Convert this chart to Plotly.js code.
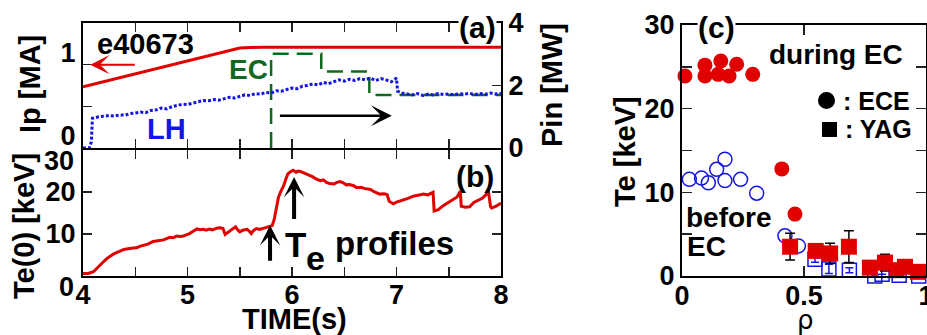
<!DOCTYPE html>
<html><head><meta charset="utf-8">
<script src="https://cdn.plot.ly/plotly-3.0.1.min.js"></script>
<style>html,body{margin:0;padding:0;background:#fff;}#plot{width:927px;height:335px;}</style>
</head><body><div id="plot"></div>
<script>
// ---------- data: panel (a) ----------
const ipTime = [4.00, 5.50, 5.70, 8.00];
const ipMA   = [0.735, 1.20, 1.21, 1.21];

const lhTime = [4.00,4.06,4.08,4.09,4.15,4.20,4.25,4.30,4.35,4.40,4.45,4.50,4.55,4.60,4.65,4.70,4.75,4.80,4.85,4.90,4.95,5.00,5.05,5.10,5.15,5.20,5.25,5.30,5.35,5.40,5.45,5.50,5.55,5.60,5.65,5.70,5.75,5.80,5.85,5.90,5.95,6.00,6.05,6.10,6.15,6.20,6.25,6.30,6.35,6.40,6.45,6.50,6.55,6.60,6.65,6.70,6.75,6.80,6.85,6.90,6.95,7.00,7.01,7.05,7.10,7.15,7.20,7.25,7.30,7.35,7.40,7.45,7.50,7.55,7.60,7.65,7.70,7.75,7.80,7.85,7.90,7.95,8.00];
const lhMW   = [0.00,0.00,0.20,0.95,1.00,1.02,1.04,1.02,1.06,1.05,1.10,1.12,1.15,1.13,1.20,1.22,1.28,1.25,1.32,1.36,1.40,1.39,1.44,1.47,1.52,1.51,1.55,1.53,1.58,1.62,1.60,1.66,1.70,1.68,1.74,1.72,1.78,1.76,1.83,1.82,1.88,1.92,1.90,1.98,2.00,2.05,2.02,2.10,2.06,2.12,2.18,2.14,2.20,2.16,2.22,2.18,2.24,2.16,2.22,2.18,2.12,2.24,1.82,1.76,1.73,1.70,1.74,1.68,1.72,1.70,1.74,1.71,1.73,1.70,1.74,1.72,1.75,1.71,1.74,1.72,1.76,1.73,1.75];

const ecTime = [5.80, 5.80, 6.28, 6.28, 6.74, 6.74, 8.00];
const ecMW   = [0.00, 3.02, 3.02, 2.45, 2.45, 1.70, 1.70];

// ---------- data: panel (b) ----------
const teTime = [4.00,4.05,4.10,4.13,4.16,4.20,4.23,4.26,4.29,4.33,4.36,4.39,4.43,4.48,4.52,4.55,4.58,4.62,4.67,4.70,4.74,4.77,4.80,4.83,4.86,4.90,4.93,4.96,5.00,5.02,5.05,5.09,5.12,5.15,5.18,5.21,5.24,5.28,5.31,5.34,5.36,5.38,5.41,5.44,5.46,5.48,5.50,5.53,5.57,5.59,5.61,5.63,5.66,5.69,5.72,5.76,5.79,5.81,5.83,5.85,5.87,5.89,5.92,5.94,5.96,5.99,6.01,6.04,6.06,6.08,6.11,6.14,6.17,6.20,6.23,6.27,6.30,6.33,6.36,6.40,6.43,6.46,6.49,6.52,6.55,6.59,6.62,6.66,6.70,6.75,6.79,6.84,6.88,6.91,6.93,6.97,7.00,7.04,7.07,7.11,7.16,7.20,7.26,7.30,7.35,7.36,7.40,7.45,7.50,7.54,7.58,7.61,7.62,7.66,7.70,7.74,7.78,7.82,7.85,7.88,7.90,7.91,7.95,7.99,8.00];
const te0keV = [0.6,0.6,1.0,1.8,2.6,3.5,4.2,4.8,5.2,5.7,6.0,6.3,6.5,6.6,6.8,7.1,7.3,7.6,8.2,8.3,8.5,8.6,8.9,9.2,9.1,9.5,9.4,9.5,9.9,10.1,10.6,11.2,11.0,11.1,10.9,11.2,11.0,11.4,11.5,11.3,9.9,10.3,10.9,11.3,11.7,11.0,10.5,10.9,11.1,10.7,10.1,10.8,11.3,11.1,11.3,11.5,11.7,12.0,13.5,16.0,18.7,20.0,21.5,23.0,24.3,24.9,25.2,24.7,25.0,24.9,24.6,24.2,23.9,23.6,23.1,22.7,22.9,22.3,22.0,21.9,22.3,22.5,22.2,21.7,21.8,21.5,21.0,21.1,20.8,20.6,20.0,19.5,19.6,19.4,17.8,17.2,17.6,17.9,18.1,18.5,19.0,19.2,19.5,19.3,19.9,15.5,15.8,16.8,17.6,18.2,18.8,20.2,16.6,16.4,16.5,17.5,18.0,18.5,19.2,20.1,16.5,16.2,16.6,17.2,17.0];

// ---------- data: panel (c) ----------
const eceDuringRho = [0.012,0.094,0.094,0.159,0.148,0.193,0.224,0.290,0.409,0.463];
const eceDuringTe  = [23.9,25.2,23.9,25.7,24.1,23.9,25.3,24.1,12.8,7.4];
const eceBeforeRho = [0.030,0.080,0.108,0.142,0.176,0.176,0.240,0.306,0.422,0.477];
const eceBeforeTe  = [11.55,11.7,11.15,12.75,13.95,11.4,11.55,9.9,4.8,3.6];
const yagDuringRho = [0.443,0.548,0.607,0.684,0.770,0.832,0.880,0.914,0.967];
const yagDuringTe  = [3.5,3.0,2.7,3.5,1.0,1.6,0.7,1.1,0.5];
const yagDuringErr = [1.6,0,1.2,1.9,0,1.0,0,0,0];
const yagBeforeRho = [0.545,0.602,0.686,0.790,0.820,0.890,0.970];
const yagBeforeTe  = [2.0,0.85,0.7,0.0,0.2,0.1,0.0];
const yagBeforeErr = [0.35,0.55,0.3,0,0,0,0];

// ---------- tick labels ----------
const timeTicks = [4,4.5,5,5.5,6,6.5,7,7.5,8];
const timeTickText = ['4','','5','','6','','7','','8'];
const ipTicks = [0,0.5,1]; const ipTickText = ['0','','1'];
const pinTicks = [0,2,4]; const pinTickText = ['0','2','4'];
const teTicks = [0,10,20,30]; const teTickText = ['','10','20',''];
const teEndTicks = [0,30]; const teEndText = ['0','30'];
const rhoTicks = [0,0.5,1]; const rhoTickText = ['0','0.5','1'];
const tecTicks = [0,5,10,15,20,25,30]; const tecTickText = ['0','','10','','20','','30'];

// ---------- layout helpers ----------
const W = 927, H = 335;
const PX = x => x / W, PY = y => 1 - y / H;
const RED = '#e00000', BLUE = '#1414e6', GREEN = '#11691f';
const FONT = 'Liberation Sans, Arial, Helvetica, sans-serif';

const traces = [
  {x: ipTime, y: ipMA, xaxis:'x', yaxis:'y', mode:'lines', line:{color:RED, width:3}},
  {x: ecTime, y: ecMW, xaxis:'x', yaxis:'y3', mode:'lines', line:{color:GREEN, width:2.5, dash:'16px,8px'}},
  {x: lhTime, y: lhMW, xaxis:'x', yaxis:'y3', mode:'lines', line:{color:BLUE, width:3, dash:'3px,2px'}},
  {x: teTime, y: te0keV, xaxis:'x2', yaxis:'y2', mode:'lines', line:{color:RED, width:3}},
  {x: eceBeforeRho, y: eceBeforeTe, xaxis:'x3', yaxis:'y4', mode:'markers', cliponaxis:false,
    marker:{symbol:'circle-open', size:14, color:BLUE, line:{width:1.5, color:BLUE}}},
  {x: yagBeforeRho, y: yagBeforeTe, xaxis:'x3', yaxis:'y4', mode:'markers', cliponaxis:false,
    error_y:{type:'data', array:yagBeforeErr, color:BLUE, thickness:1.5, width:4},
    marker:{symbol:'square-open', size:14, color:BLUE, line:{width:1.5, color:BLUE}}},
  {x: eceDuringRho, y: eceDuringTe, xaxis:'x3', yaxis:'y4', mode:'markers', cliponaxis:false,
    marker:{symbol:'circle', size:15, color:RED}},
  {x: yagDuringRho, y: yagDuringTe, xaxis:'x3', yaxis:'y4', mode:'markers', cliponaxis:false,
    error_y:{type:'data', array:yagDuringErr, color:'#000', thickness:1.5, width:5},
    marker:{symbol:'square', size:16, color:RED}}
];

const axBase = {showline:true, linewidth:2, linecolor:'#000', ticks:'inside', ticklen:9, tickwidth:1.5, tickcolor:'#222',
  showgrid:false, zeroline:false, fixedrange:true, ticklabeloverflow:'allow',
  tickfont:{size:27, family:FONT, weight:'bold', color:'#000'}};

function ann(text, xpx, ypx, size, extra) {
  return Object.assign({text:text, xref:'paper', yref:'paper', x:PX(xpx), y:PY(ypx), xanchor:'center', yanchor:'middle',
    showarrow:false, font:{size:size, family:FONT, weight:'bold', color:'#000'}}, extra || {});
}
function arrow(xr, yr, x, y, ax, ay, color, width, size) {
  return {text:'', xref:xr, yref:yr, axref:xr, ayref:yr, x:x, y:y, ax:ax, ay:ay, showarrow:true,
    arrowhead:3, arrowcolor:color, arrowwidth:width, arrowsize:size, standoff:0, startstandoff:0};
}

// Te(0) end tick labels sit slightly below their ticks (as in the original figure)
const teEndLabels = teEndTicks.map((v, i) => ({text:teEndText[i], xref:'paper', yref:'y2', x:PX(76), y:v, yshift:-11,
  xanchor:'right', yanchor:'middle', showarrow:false, font:{size:27, family:FONT, weight:'bold', color:'#000'}}));

const layout = {
  width:W, height:H, margin:{l:0,r:0,t:0,b:0}, paper_bgcolor:'#fff', plot_bgcolor:'rgba(0,0,0,0)', showlegend:false,
  font:{family:FONT, weight:'bold', color:'#000'},
  xaxis: Object.assign({}, axBase, {domain:[PX(83),PX(501)], anchor:'y', range:[4,8], tickvals:timeTicks, ticktext:timeTickText, showticklabels:false, mirror:'ticks'}),
  yaxis: Object.assign({}, axBase, {domain:[PY(148),PY(23)], anchor:'x', range:[0,1.5], tickvals:ipTicks, ticktext:ipTickText, ticklabelshift:-12}),
  yaxis3: Object.assign({}, axBase, {overlaying:'y', anchor:'x', side:'right', range:[0,4], tickvals:pinTicks, ticktext:pinTickText}),
  xaxis2: Object.assign({}, axBase, {domain:[PX(83),PX(501)], anchor:'y2', range:[4,8], tickvals:timeTicks, ticktext:timeTickText, mirror:'ticks', ticklabelstandoff:-6}),
  yaxis2: Object.assign({}, axBase, {domain:[PY(276),PY(150)], anchor:'x2', range:[0,30], tickvals:teTicks, ticktext:teTickText, mirror:'ticks'}),
  xaxis3: Object.assign({}, axBase, {domain:[PX(682),PX(926)], anchor:'y4', range:[0,1], tickvals:rhoTicks, ticktext:rhoTickText, mirror:'ticks', ticklen:10, ticklabelstandoff:-5}),
  yaxis4: Object.assign({}, axBase, {domain:[PY(276),PY(25)], anchor:'x3', range:[0,30], tickvals:tecTicks, ticktext:tecTickText, mirror:'ticks', ticklen:10}),
  shapes: [
    {type:'circle', xref:'paper', yref:'paper', x0:PX(818), x1:PX(835), y0:PY(109), y1:PY(92), fillcolor:'#000', line:{width:0}},
    {type:'rect', xref:'paper', yref:'paper', x0:PX(822), x1:PX(837), y0:PY(137), y1:PY(122), fillcolor:'#000', line:{width:0}}
  ],
  annotations: teEndLabels.concat([
    ann('Ip [MA]', 30, 84, 29, {textangle:-90}),
    ann('Pin [MW]', 552, 85, 29, {textangle:-90}),
    ann('Te(0) [keV]', 24, 226, 29, {textangle:-90}),
    ann('TIME(s)', 294, 319, 29),
    ann('Te [keV]', 625, 152, 29, {textangle:-90}),
    ann('ρ', 805, 320, 26, {font:{size:26, family:'DejaVu Sans, sans-serif', weight:'normal', color:'#000'}}),
    ann('e40673', 145, 44, 29),
    ann('EC', 249, 69, 28, {font:{size:28, family:FONT, weight:'bold', color:GREEN}}),
    ann('LH', 166, 129, 29, {font:{size:29, family:FONT, weight:'bold', color:BLUE}}),
    ann('(a)', 477, 27, 30, {bgcolor:'#fff', borderpad:0}),
    ann('(b)', 475, 176, 30),
    ann('T', 295, 244, 35),
    ann('e', 315, 258, 34),
    ann('profiles', 394, 243, 33),
    ann('(c)', 716, 27, 30, {bgcolor:'#fff', borderpad:0}),
    ann('during EC', 836, 54, 28),
    ann(': ECE', 876, 101, 25),
    ann(': YAG', 878, 129, 25),
    ann('before', 729, 217, 28),
    ann('EC', 706, 247, 28),
    arrow('x','y', 4.07, 1.0, 4.51, 1.0, RED, 2, 1.6),
    arrow('x','y3', 6.955, 1.03, 5.87, 1.03, '#000', 2.5, 1.4),
    arrow('x2','y2', 5.79, 12.1, 5.79, 3.3, '#000', 4, 0.85),
    arrow('x2','y2', 6.02, 23.6, 6.02, 13.2, '#000', 4, 0.85)
  ])
};

Plotly.newPlot('plot', traces, layout, {staticPlot:true, displayModeBar:false});
</script>
</body></html>
